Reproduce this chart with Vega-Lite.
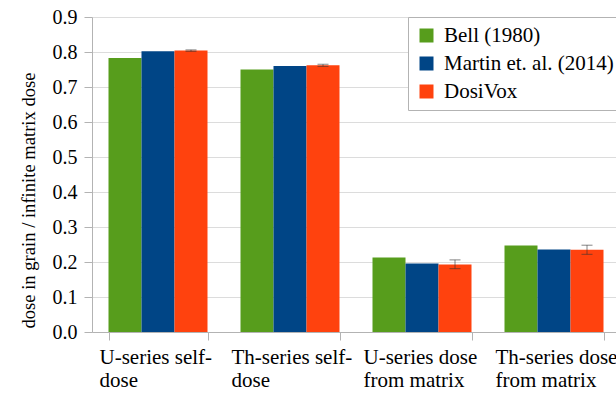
{
  "$schema": "https://vega.github.io/schema/vega-lite/v6.json",
  "autosize": "none",
  "padding": {"left": 92, "top": 17, "right": 0, "bottom": 62},
  "width": 528,
  "height": 315,
  "background": "white",
  "config": {"font": "Liberation Serif", "view": {"stroke": null}},
  "data": {"values": [
    {"category": "U-series self-dose", "series": "Bell (1980)", "value": 0.783},
    {"category": "U-series self-dose", "series": "Martin et. al. (2014)", "value": 0.802},
    {"category": "U-series self-dose", "series": "DosiVox", "value": 0.804, "err_low": 0.802, "err_high": 0.806},
    {"category": "Th-series self-dose", "series": "Bell (1980)", "value": 0.750},
    {"category": "Th-series self-dose", "series": "Martin et. al. (2014)", "value": 0.760},
    {"category": "Th-series self-dose", "series": "DosiVox", "value": 0.762, "err_low": 0.759, "err_high": 0.765},
    {"category": "U-series dose from matrix", "series": "Bell (1980)", "value": 0.213},
    {"category": "U-series dose from matrix", "series": "Martin et. al. (2014)", "value": 0.196},
    {"category": "U-series dose from matrix", "series": "DosiVox", "value": 0.193, "err_low": 0.181, "err_high": 0.206},
    {"category": "Th-series dose from matrix", "series": "Bell (1980)", "value": 0.247},
    {"category": "Th-series dose from matrix", "series": "Martin et. al. (2014)", "value": 0.236},
    {"category": "Th-series dose from matrix", "series": "DosiVox", "value": 0.235, "err_low": 0.222, "err_high": 0.248}
  ]},
  "resolve": {"axis": {"y": "independent"}},
  "encoding": {
    "x": {
      "field": "category", "type": "nominal", "sort": null,
      "scale": {"paddingInner": 0.25, "paddingOuter": 0.125},
      "axis": {
        "title": null,
        "labelAngle": 0,
        "labelAlign": "left",
        "labelBaseline": "top",
        "labelFont": "Liberation Serif",
        "labelFontSize": 21,
        "labelLineHeight": 23,
        "labelColor": "black",
        "labelPadding": 6,
        "labelLimit": 0,
        "labelOverlap": false,
        "labelBound": false,
        "labelExpr": "!datum.label ? '' : (indexof(datum.label, 'self-') >= 0 ? [replace(datum.label, 'dose', ''), 'dose'] : [replace(datum.label, ' from matrix', ''), 'from matrix'])",
        "labelOffset": -59,
        "tickBand": "extent",
        "tickSize": 8,
        "tickColor": "#b3b3b3",
        "domainColor": "#b3b3b3"
      }
    },
    "xOffset": {
      "field": "series", "type": "nominal",
      "scale": {"domain": ["Bell (1980)", "Martin et. al. (2014)", "DosiVox"], "paddingInner": 0, "paddingOuter": 0}
    }
  },
  "layer": [
    {
      "mark": {"type": "bar"},
      "encoding": {
        "y": {
          "field": "value", "type": "quantitative",
          "scale": {"domain": [0, 0.9], "nice": false, "zero": true},
          "axis": {
            "title": "dose in grain / infinite matrix dose",
            "titleFont": "Liberation Serif",
            "titleFontSize": 18.6,
            "titleFontWeight": "normal",
            "titleColor": "black",
            "titleX": -58,
            "titleY": 183,
            "titleAlign": "center",
            "titleBaseline": "alphabetic",
            "values": [0, 0.1, 0.2, 0.3, 0.4, 0.5, 0.6, 0.7, 0.8, 0.9],
            "format": ".1f",
            "labelFont": "Liberation Serif",
            "labelFontSize": 20,
            "labelColor": "black",
            "labelPadding": 7,
            "tickSize": 8,
            "tickColor": "#b3b3b3",
            "domainColor": "#b3b3b3",
            "gridColor": "#dcdcdc",
            "labelBound": false
          }
        },
        "color": {
          "field": "series", "type": "nominal",
          "scale": {"domain": ["Bell (1980)", "Martin et. al. (2014)", "DosiVox"], "range": ["#579d1c", "#004586", "#ff420e"]},
          "legend": {
            "orient": "none",
            "legendX": 316,
            "legendY": 0,
            "title": null,
            "strokeColor": "#b3b3b3",
            "fillColor": "white",
            "padding": 8,
            "symbolType": "square",
            "symbolSize": 196,
            "symbolStrokeWidth": 0,
            "symbolOpacity": 1,
            "labelFont": "Liberation Serif",
            "labelFontSize": 21,
            "labelOffset": 7,
            "rowPadding": 6,
            "labelColor": "black",
            "labelLimit": 0
          }
        }
      }
    },
    {
      "transform": [{"filter": "isValid(datum.err_low)"}],
      "mark": {"type": "rule", "color": "#333333", "opacity": 0.6},
      "encoding": {
        "y": {"field": "err_low", "type": "quantitative", "axis": null},
        "y2": {"field": "err_high"}
      }
    },
    {
      "transform": [{"filter": "isValid(datum.err_low)"}],
      "mark": {"type": "tick", "color": "#333333", "opacity": 0.6, "size": 11, "thickness": 1},
      "encoding": {
        "y": {"field": "err_low", "type": "quantitative", "axis": null}
      }
    },
    {
      "transform": [{"filter": "isValid(datum.err_high)"}],
      "mark": {"type": "tick", "color": "#333333", "opacity": 0.6, "size": 11, "thickness": 1},
      "encoding": {
        "y": {"field": "err_high", "type": "quantitative", "axis": null}
      }
    }
  ]
}
